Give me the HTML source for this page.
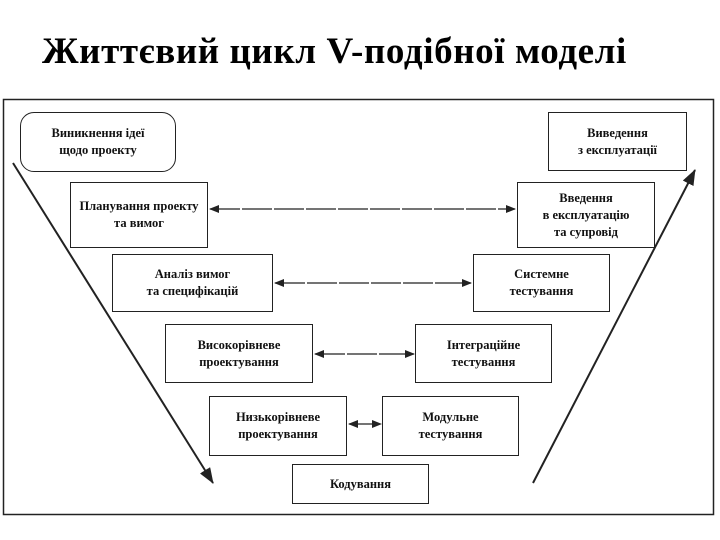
<!DOCTYPE html>
<html><head><meta charset="utf-8"><style>
body{margin:0;width:720px;height:540px;background:#fff;overflow:hidden;position:relative;font-family:"Liberation Serif",serif}
.t{position:absolute;left:42px;top:30px;font-size:37px;font-weight:bold;letter-spacing:0.6px;color:#000;white-space:nowrap}
.b{position:absolute;border:1.5px solid #222;box-sizing:border-box;display:flex;align-items:center;justify-content:center;text-align:center;font-size:12.5px;line-height:17px;color:#111;font-weight:600}
</style></head><body>
<div class="t">Життєвий цикл V-подібної моделі</div>
<svg width="720" height="540" style="position:absolute;left:0;top:0">
<defs><marker id="a" markerWidth="10" markerHeight="8" refX="9" refY="4" orient="auto-start-reverse" markerUnits="userSpaceOnUse"><path d="M0,0 L10,4 L0,8 Z" fill="#222"/></marker>
<marker id="A" markerWidth="16" markerHeight="12" refX="15" refY="6" orient="auto" markerUnits="userSpaceOnUse"><path d="M0,0 L16,6 L0,12 Z" fill="#222"/></marker></defs>
<rect x="3.5" y="99.5" width="710" height="415" fill="none" stroke="#222" stroke-width="1.5"/>
<line x1="13" y1="163" x2="213" y2="483" stroke="#222" stroke-width="2" marker-end="url(#A)"/>
<line x1="533" y1="483" x2="695" y2="170" stroke="#222" stroke-width="2" marker-end="url(#A)"/>
<g stroke="#222" stroke-width="1.2" stroke-dasharray="30 2">
<line x1="210" y1="209" x2="515" y2="209" marker-start="url(#a)" marker-end="url(#a)"/>
<line x1="275" y1="283" x2="471" y2="283" marker-start="url(#a)" marker-end="url(#a)"/>
<line x1="315" y1="354" x2="414" y2="354" marker-start="url(#a)" marker-end="url(#a)"/>
<line x1="349" y1="424" x2="381" y2="424" marker-start="url(#a)" marker-end="url(#a)"/>
</g></svg>
<div class="b" style="left:20px;top:112px;width:156px;height:60px;border-radius:14px">Виникнення ідеї<br>щодо проекту</div>
<div class="b" style="left:548px;top:112px;width:139px;height:59px">Виведення<br>з експлуатації</div>
<div class="b" style="left:70px;top:182px;width:138px;height:66px">Планування проекту<br>та вимог</div>
<div class="b" style="left:517px;top:182px;width:138px;height:66px">Введення<br>в експлуатацію<br>та супровід</div>
<div class="b" style="left:112px;top:254px;width:161px;height:58px">Аналіз вимог<br>та специфікацій</div>
<div class="b" style="left:473px;top:254px;width:137px;height:58px">Системне<br>тестування</div>
<div class="b" style="left:165px;top:324px;width:148px;height:59px">Високорівневе<br>проектування</div>
<div class="b" style="left:415px;top:324px;width:137px;height:59px">Інтеграційне<br>тестування</div>
<div class="b" style="left:209px;top:396px;width:138px;height:60px">Низькорівневе<br>проектування</div>
<div class="b" style="left:382px;top:396px;width:137px;height:60px">Модульне<br>тестування</div>
<div class="b" style="left:292px;top:464px;width:137px;height:40px">Кодування</div>
</body></html>
